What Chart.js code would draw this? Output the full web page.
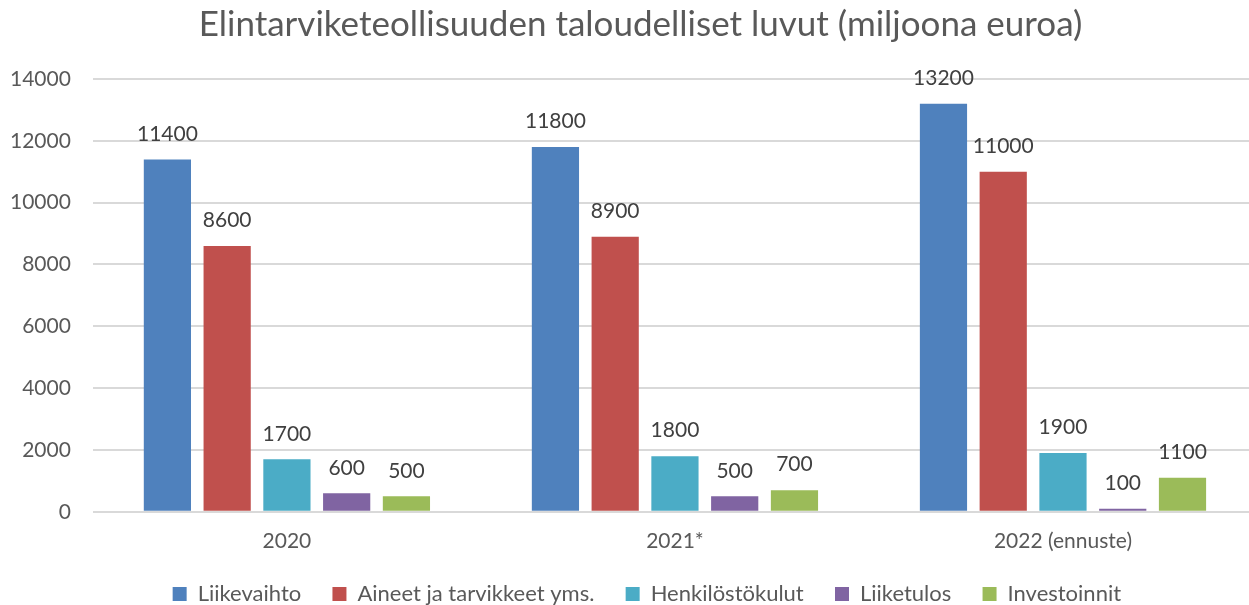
<!DOCTYPE html>
<html>
<head>
<meta charset="utf-8">
<script src="https://cdn.jsdelivr.net/npm/chart.js@4/dist/chart.umd.min.js"></script>
<style>
  html, body { margin: 0; padding: 0; background: #fff; overflow: hidden; }
  #wrap { width: 1257px; height: 615px; position: relative; }
</style>
</head>
<body>
<div id="wrap"><canvas id="chart"></canvas></div>
<script>
// data
const years = ['2020', '2021*', '2022 (ennuste)'];
const liikevaihto = [11400, 11800, 13200];
const aineet = [8600, 8900, 11000];
const henkilosto = [1700, 1800, 1900];
const liiketulos = [600, 500, 100];
const investoinnit = [500, 700, 1100];
const yTicks = [0, 2000, 4000, 6000, 8000, 10000, 12000, 14000];

const textColor = '#595959';

// draw the value labels on top of each bar
const barLabels = {
  id: 'barLabels',
  afterDatasetsDraw(chart) {
    const ctx = chart.ctx;
    ctx.save();
    ctx.font = '21px Lato';
    ctx.fillStyle = '#404040';
    ctx.textAlign = 'center';
    ctx.textBaseline = 'bottom';
    chart.data.datasets.forEach((ds, i) => {
      chart.getDatasetMeta(i).data.forEach((bar, j) => {
        ctx.fillText(ds.data[j], bar.x, bar.y - 15);
      });
    });
    ctx.restore();
  }
};

// title and legend sit a bit right of the canvas centre in the original
const nudge = (box, dx) => {
  const draw = box.draw;
  box.draw = function (area) {
    this.ctx.save();
    this.ctx.translate(dx, 0);
    draw.call(this, area);
    this.ctx.restore();
  };
};
const shiftBlocks = {
  id: 'shiftBlocks',
  afterInit(chart) {
    nudge(chart.titleBlock, 18);
    nudge(chart.legend, 30);
  }
};

const mk = (label, data, color) => ({
  label: label,
  data: data,
  backgroundColor: color,
  borderWidth: 0
});

new Chart(document.getElementById('chart'), {
  type: 'bar',
  data: {
    labels: years,
    datasets: [
      mk('Liikevaihto', liikevaihto, '#4F81BD'),
      mk('Aineet ja tarvikkeet yms.', aineet, '#C0504D'),
      mk('Henkilöstökulut', henkilosto, '#4BACC6'),
      mk('Liiketulos', liiketulos, '#8064A2'),
      mk('Investoinnit', investoinnit, '#9BBB59')
    ]
  },
  options: {
    responsive: true,
    maintainAspectRatio: false,
    animation: false,
    datasets: { bar: { categoryPercentage: 0.77, barPercentage: 0.79 } },
    layout: { padding: { left: -12, right: 0, top: 0, bottom: 0 } },
    plugins: {
      title: {
        display: true,
        text: 'Elintarviketeollisuuden taloudelliset luvut (miljoona euroa)',
        color: textColor,
        font: { family: 'Lato', size: 35, weight: 'normal' },
        padding: { top: 4, bottom: 33 }
      },
      legend: {
        position: 'bottom',
        labels: {
          color: textColor,
          font: { family: 'Lato', size: 22 },
          boxWidth: 14,
          boxHeight: 14,
          padding: 20,
          // keep the wide gaps between items
          generateLabels: (chart) => Chart.defaults.plugins.legend.labels.generateLabels(chart)
            .map(item => ({ ...item, text: item.text + '  ' }))
        }
      },
      tooltip: { enabled: false }
    },
    scales: {
      x: {
        grid: { display: false },
        border: { display: false },
        ticks: { color: textColor, font: { family: 'Lato', size: 21 }, padding: 9 }
      },
      y: {
        min: 0,
        max: 14000,
        afterBuildTicks: (axis) => { axis.ticks = yTicks.map(v => ({ value: v })); },
        grid: { color: '#d9d9d9', lineWidth: 2, drawTicks: false },
        border: { display: false },
        ticks: {
          color: textColor,
          font: { family: 'Lato', size: 21 },
          padding: 22,
          callback: (v) => String(v)
        }
      }
    }
  },
  plugins: [barLabels, shiftBlocks]
});
</script>
</body>
</html>
